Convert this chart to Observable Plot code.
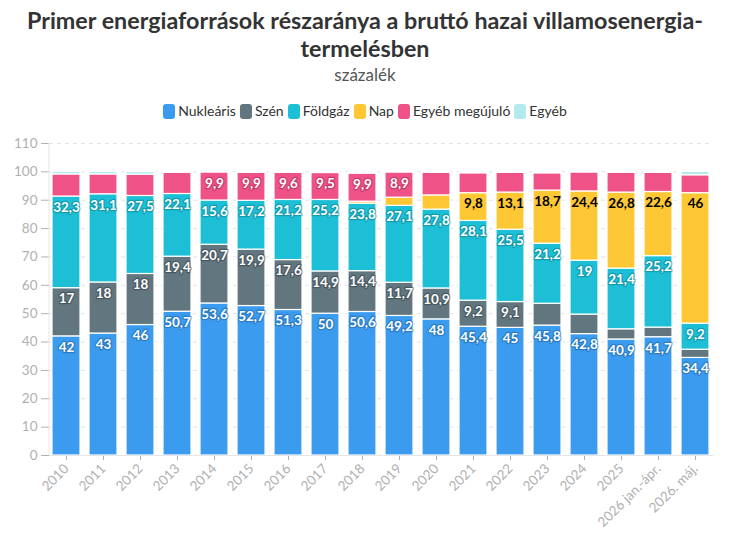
<!DOCTYPE html>
<html lang="hu">
<head>
<meta charset="utf-8">
<script src="https://cdn.jsdelivr.net/npm/d3@7"></script>
<script src="https://cdn.jsdelivr.net/npm/@observablehq/plot@0.6"></script>
<style>
  body { margin: 0; background: #fff; font-family: Lato, "Noto Sans", sans-serif; }
  #page { position: relative; width: 730px; height: 535px; overflow: hidden; }
  #title { position: absolute; left: 0; top: 6px; width: 730px; text-align: center;
           font-size: 23.3px; line-height: 28px; font-weight: 700; color: #333; }
  #subtitle { position: absolute; left: 0; top: 64px; width: 730px; text-align: center;
              font-size: 17px; line-height: 22px; color: #555; }
  #legend { position: absolute; left: 0; top: 103px; width: 730px; display: flex;
            justify-content: center; gap: 4px; font-size: 14px; line-height: 16px; color: #333; }
  #legend .item { display: flex; align-items: center; gap: 3px; }
  #legend .swatch { width: 12px; height: 15px; border-radius: 3px; }
  #chart { position: absolute; left: 0; top: 130px; }
</style>
</head>
<body>
<div id="page">
  <div id="title">Primer energiaforrások részaránya a bruttó hazai villamosenergia-<br>termelésben</div>
  <div id="subtitle">százalék</div>
  <div id="legend"></div>
  <div id="chart"></div>
</div>
<script>
// Years / periods on the x axis
const categories = ["2010", "2011", "2012", "2013", "2014", "2015", "2016", "2017", "2018",
  "2019", "2020", "2021", "2022", "2023", "2024", "2025", "2026 jan.-ápr.", "2026. máj."];

// Share of each primary source in gross domestic electricity generation (%)
const nuclear    = [42, 43, 46, 50.7, 53.6, 52.7, 51.3, 50, 50.6, 49.2, 48, 45.4, 45, 45.8, 42.8, 40.9, 41.7, 34.4];
const coal       = [17, 18, 18, 19.4, 20.7, 19.9, 17.6, 14.9, 14.4, 11.7, 10.9, 9.2, 9.1, 7.7, 6.9, 3.6, 3.4, 2.9];
const gas        = [32.3, 31.1, 27.5, 22.1, 15.6, 17.2, 21.2, 25.2, 23.8, 27.1, 27.8, 28.1, 25.5, 21.2, 19, 21.4, 25.2, 9.2];
const solar      = [0, 0, 0, 0, 0, 0, 0, 0, 0.7, 2.9, 5.0, 9.8, 13.1, 18.7, 24.4, 26.8, 22.6, 46];
const otherRenew = [7.8, 7.0, 7.5, 7.5, 9.9, 9.9, 9.6, 9.5, 9.9, 8.9, 8.0, 7.0, 7.0, 6.1, 6.7, 7.0, 6.8, 6.3];
const other      = [0.9, 0.9, 0.9, 0.3, 0.2, 0.3, 0.3, 0.4, 0.3, 0.2, 0.3, 0.3, 0.3, 0.3, 0.2, 0.3, 0.2, 1.2];

const seriesNames  = ["Nukleáris", "Szén", "Földgáz", "Nap", "Egyéb megújuló", "Egyéb"];
const seriesColors = ["#3a9bef", "#627680", "#1cbfd5", "#fec834", "#ee5286", "#b3eaf0"];
const seriesValues = [nuclear, coal, gas, solar, otherRenew, other];

const yTicks = [0, 10, 20, 30, 40, 50, 60, 70, 80, 90, 100, 110];

// Long format table for the stacked bars
const rows = categories.flatMap((category, i) =>
  seriesNames.map((series, j) => ({category, series, value: seriesValues[j][i]})));

const fmt = v => String(v).replace(".", ",");

// Legend
const legend = document.getElementById("legend");
seriesNames.forEach((name, i) => {
  const item = document.createElement("div");
  item.className = "item";
  const sw = document.createElement("div");
  sw.className = "swatch";
  sw.style.background = seriesColors[i];
  const label = document.createElement("span");
  label.textContent = name;
  item.append(sw, label);
  legend.append(item);
});

// Value labels at the top of each segment that is tall enough
const labelStyles = [
  {series: "Nukleáris", fill: "#fff", halo: "#1d5f9c"},
  {series: "Szén", fill: "#fff", halo: "#2f3b41"},
  {series: "Földgáz", fill: "#fff", halo: "#0c7b8c"},
  {series: "Nap", fill: "#000", halo: "#fec834"},
  {series: "Egyéb megújuló", fill: "#fff", halo: "#9c2450"}
];
const labelMarks = labelStyles.map(s =>
  Plot.text(rows, Plot.stackY2({
    x: "category", y: "value", z: "series", order: seriesNames,
    text: d => (d.series === s.series && d.value >= 8.5) ? fmt(d.value) : "",
    dy: 11, fill: s.fill, stroke: s.halo, strokeWidth: 2.5, strokeOpacity: 0.5,
    fontWeight: 700, fontSize: 13.5
  })));

// Light vertical axis line on the left edge of the plot area
function leftAxisLine(...args) {
  const dims = args.find(a => a && typeof a === "object" && "marginLeft" in a && "height" in a);
  const line = document.createElementNS("http://www.w3.org/2000/svg", "line");
  line.setAttribute("x1", dims.marginLeft);
  line.setAttribute("x2", dims.marginLeft);
  line.setAttribute("y1", dims.marginTop);
  line.setAttribute("y2", dims.height - dims.marginBottom);
  line.setAttribute("stroke", "#e6e6e6");
  return line;
}

const chart = Plot.plot({
  width: 730,
  height: 405,
  marginTop: 13,
  marginBottom: 80,
  marginLeft: 49,
  marginRight: 17,
  style: {fontFamily: "Lato, 'Noto Sans', sans-serif", fontSize: "13.5px", color: "#b0b0b0", background: "white"},
  x: {domain: categories, paddingInner: 0.23, paddingOuter: 0.075, label: null, tickRotate: -45, tickSize: 5, tickPadding: 6},
  y: {domain: [0, 110], ticks: yTicks, label: null, tickSize: 8, tickPadding: 4},
  color: {domain: seriesNames, range: seriesColors},
  marks: [
    Plot.ruleY(yTicks.filter(t => t > 0), {stroke: "#e2e2e2", strokeDasharray: "4,4"}),
    Plot.barY(rows, {x: "category", y: "value", z: "series", fill: "series", order: seriesNames,
                     stroke: "white", strokeWidth: 1.2}),
    Plot.ruleY([0], {stroke: "#e6e6e6"}),
    leftAxisLine,
    ...labelMarks
  ]
});
document.getElementById("chart").append(chart);
</script>
</body>
</html>
